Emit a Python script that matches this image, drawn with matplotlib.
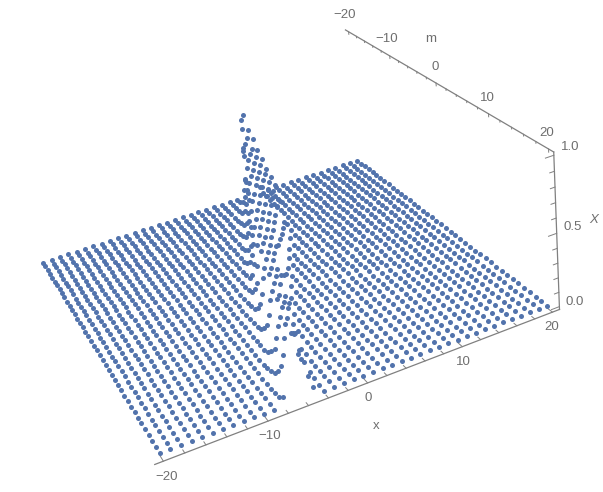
import numpy as np
import matplotlib
matplotlib.use("Agg")
import matplotlib.pyplot as plt

W, H = 603, 492
plt.rcParams["font.family"] = ["Liberation Sans", "DejaVu Sans"]

# grid of the sampled surface
x_vals = list(range(-20, 21))
m_vals = list(range(-20, 21))

# first x column of the raised part in each m row
ridge_start = [5, 4, 4, 3, 3, 3, 2, 2, 2, 1, 1, 1, 0, 0, 0, -1, -1, -2, -2, -2, -3,
               -3, -3, -4, -4, -4, -5, -5, -5, -5, -6, -6, -6, -6, -7, -7, -7, -7, -8, -8, -8]
# heights of neighbouring columns in each m row, the rest of the floor is zero
ridge_heights = [
    [.06, .60, .04], [.01, .17, .66, .02], [.03, .42, .57, .02],
    [.01, .10, .62, .52, .01], [.02, .27, .57, .46, .01], [.06, .54, .51, .41, .01],
    [.01, .14, .59, .47, .36, .01], [.02, .34, .54, .43, .32, .01], [.07, .57, .49, .39, .28, .01],
    [.01, .17, .56, .45, .35, .18], [.03, .38, .51, .41, .31, .03], [.09, .57, .47, .37, .27, .01],
    [.01, .21, .53, .43, .33, .12], [.04, .45, .49, .39, .29, .02], [.10, .55, .44, .35, .15],
    [.02, .27, .50, .40, .30, .02], [.06, .50, .46, .36, .18], [.01, .14, .52, .42, .32, .03],
    [.02, .32, .48, .38, .22], [.07, .52, .44, .34, .03], [.01, .18, .49, .40, .26],
    [.03, .36, .46, .37, .07], [.08, .51, .42, .33, .01], [.01, .16, .48, .39, .15],
    [.02, .31, .45, .36, .01], [.06, .49, .42, .23], [.01, .12, .48, .39, .06],
    [.01, .23, .45, .36, .01], [.03, .37, .42, .20], [.07, .47, .39, .03],
    [.01, .13, .46, .37, .01], [.01, .23, .43, .23, .01], [.03, .37, .38, .09],
    [.07, .46, .36, .01], [.01, .12, .44, .18, .01], [.03, .23, .42, .10],
    [.05, .35, .38, .05], [.10, .44, .30, .02], [.01, .17, .43, .17, .01],
    [.02, .28, .40, .09], [.06, .43, .30, .05],
]

PAD = 0.8
XLIM = (-20 - PAD, 20 + PAD)
MLIM = (20 + PAD, -20 - PAD)
ZLIM = (-0.02, 1.02)

fig = plt.figure(figsize=(W / 100, H / 100), dpi=100)
ax = fig.add_axes([-0.05982, -0.04705, 0.97024, 1.18914], projection="3d")
ax.set_xlim(*XLIM)
ax.set_ylim(*MLIM)
ax.set_zlim(*ZLIM)
ax.set_axis_off()
ax.view_init(elev=27.831, azim=-109.392, roll=8.971)
ax.set_proj_type("persp", focal_length=0.4066)
ax.set_box_aspect((1, 1, 0.4047))

# surface heights
X, M = np.meshgrid(x_vals, m_vals)
Z = np.zeros(X.shape)
for row, (start, heights) in enumerate(zip(ridge_start, ridge_heights)):
    for i, h in enumerate(heights):
        Z[row, start + 20 + i] = h

ax.scatter(X.ravel(), M.ravel(), Z.ravel(), s=13, c="#5273ac", linewidths=0, depthshade=False, clip_on=False)

GREY = "#808080"
kw = dict(color=GREY, lw=0.9, clip_on=False)
ax.plot([XLIM[0], XLIM[1]], [20.8, 20.8], [-.02, -.02], **kw)
ax.plot([20.8, 20.8], [-20.8, 20.8], [1.02, 1.02], **kw)
ax.plot([20.8, 20.8], [20.8, 20.8], [-.02, 1.02], **kw)
kw["lw"] = 0.7
for v in range(-20, 21, 2):
    L = 0.9 if v % 10 == 0 else 0.5
    ax.plot([v, v], [20.8, 20.8 - L], [-.02, -.02], **kw)
    ax.plot([20.8, 20.8], [v, v], [1.02, 1.02 - .022 * L], **kw)
for v in range(0, 11):
    L = 0.9 if v % 5 == 0 else 0.5
    ax.plot([20.8, 20.8 - L], [20.8, 20.8], [v / 10, v / 10], **kw)

tick_texts = [("−20", 345, 15), ("−10", 387, 39), ("0", 435, 67), ("10", 487, 98), ("20", 547, 133),
              ("1.0", 570, 147), ("0.5", 573, 227), ("0.0", 575, 302),
              ("−20", 167, 477), ("−10", 270, 436), ("0", 368, 398), ("10", 463, 362), ("20", 552, 327),
              ("m", 431, 39), ("x", 376, 426)]
for s, lx, ly in tick_texts:
    fig.text(lx / W, 1 - ly / H, s, color="#6e6e6e", fontsize=9.5, ha="center", va="center")
fig.text(594 / W, 1 - 220 / H, "X", color="#6e6e6e", fontsize=9.5, style="italic", ha="center", va="center")

fig.savefig("out.png", dpi=100)
